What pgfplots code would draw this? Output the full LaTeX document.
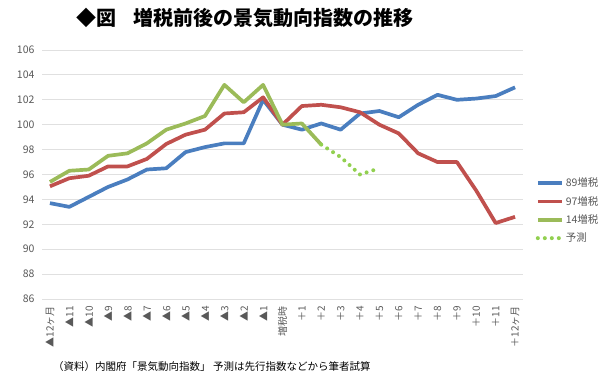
\documentclass[border=0pt]{standalone}
\usepackage{fontspec}
\setmainfont{Noto Sans CJK JP}
\usepackage{pgfplots}
\pgfplotsset{compat=1.18}
\definecolor{cblue}{HTML}{4A7EBF}
\definecolor{cred}{HTML}{C0504D}
\definecolor{cgreen}{HTML}{9BBB59}
\definecolor{cdot}{HTML}{92D050}
\definecolor{tgray}{HTML}{595959}
\definecolor{ggray}{HTML}{E0E0E0}
\begin{document}
\begin{tikzpicture}[x=1pt,y=1pt]
\path[use as bounding box] (0,0) rectangle (600,376);
\begin{axis}[
  at={(42pt,77pt)}, anchor=south west,
  scale only axis, width=481pt, height=249pt,
  xmin=-0.41, xmax=24.41, ymin=86, ymax=106,
  axis line style={draw=none},
  ytick={86,88,...,106},
  ymajorgrids, grid style={ggray, line width=1pt},
  major tick length=0pt,
  xtick={0,...,24},
  xticklabels={▲12ヶ月,▲11,▲10,▲9,▲8,▲7,▲6,▲5,▲4,▲3,▲2,▲1,増税時,＋1,＋2,＋3,＋4,＋5,＋6,＋7,＋8,＋9,＋10,＋11,＋12ヶ月},
  x tick label style={rotate=90, anchor=east, font=\fontsize{10}{12}\selectfont, text=tgray, inner sep=0pt, yshift=0pt},
  xticklabel shift=7pt,
  y tick label style={font=\fontsize{10.5}{12}\selectfont, text=tgray},
  yticklabel shift=4pt,
  /pgf/number format/assume math mode=true,
  legend style={at={(1.02,0.503)}, anchor=north west, draw=none, fill=none,
    font=\fontsize{10.5}{12}\selectfont, text=tgray, row sep=4pt,
    /tikz/every even column/.append style={column sep=0pt}},
  legend cell align=left,
  legend image code/.code={\draw[#1] (0pt,0pt) -- (24pt,0pt);},
  every axis plot/.append style={line width=3.7pt, line join=round},
]
\addplot[cblue] coordinates {(0,93.7)(1,93.4)(2,94.2)(3,95.0)(4,95.6)(5,96.4)(6,96.5)(7,97.8)(8,98.2)(9,98.5)(10,98.5)(11,102.0)(12,100.0)(13,99.6)(14,100.1)(15,99.6)(16,100.9)(17,101.1)(18,100.6)(19,101.6)(20,102.4)(21,102.0)(22,102.1)(23,102.3)(24,103.0)};
\addlegendentry{89増税}
\addplot[cred] coordinates {(0,95.05)(1,95.7)(2,95.9)(3,96.65)(4,96.65)(5,97.25)(6,98.45)(7,99.2)(8,99.6)(9,100.9)(10,101.0)(11,102.2)(12,100.0)(13,101.5)(14,101.6)(15,101.4)(16,101.0)(17,100.0)(18,99.3)(19,97.7)(20,97.0)(21,97.0)(22,94.7)(23,92.1)(24,92.6)};
\addlegendentry{97増税}
\addplot[cgreen] coordinates {(0,95.4)(1,96.3)(2,96.4)(3,97.5)(4,97.7)(5,98.5)(6,99.6)(7,100.1)(8,100.7)(9,103.2)(10,101.8)(11,103.2)(12,100.0)(13,100.1)(14,98.4)};
\addlegendentry{14増税}
\addplot[cdot, line width=4pt, line cap=round, dash pattern=on 0pt off 7pt] coordinates {(14,98.4)(15,97.4)(16,96.0)(17,96.5)};
\addlegendentry{予測}
\end{axis}
\node[font=\bfseries\fontsize{20}{24}\selectfont, anchor=center] at (245,358) {◆図\hspace{0.9em}増税前後の景気動向指数の推移};
\node[font=\fontsize{10.5}{12}\selectfont, anchor=west, inner sep=0pt] at (53,9) {（資料）内閣府「景気動向指数」 予測は先行指数などから筆者試算};
\end{tikzpicture}
\end{document}
